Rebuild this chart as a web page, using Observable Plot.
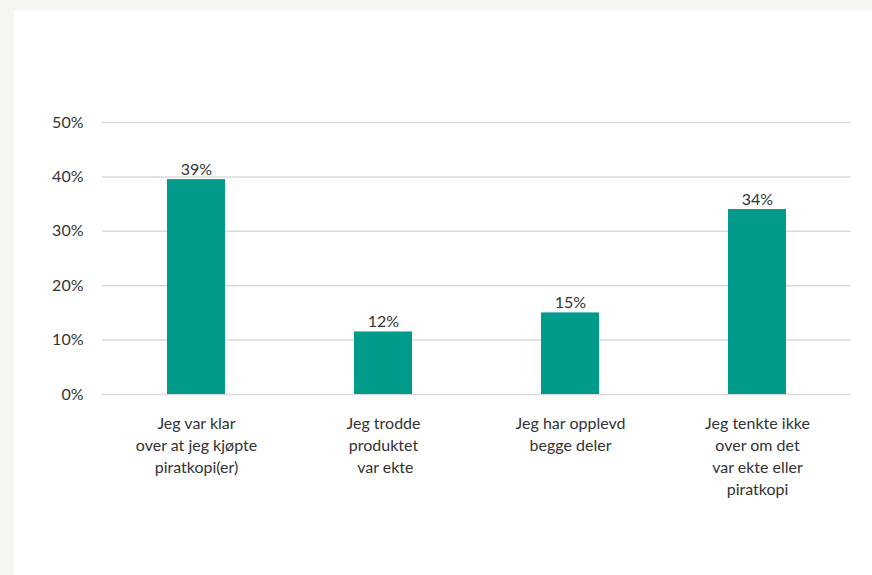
<!DOCTYPE html>
<html>
<head>
<meta charset="utf-8">
<script src="https://cdn.jsdelivr.net/npm/d3@7"></script>
<script src="https://cdn.jsdelivr.net/npm/@observablehq/plot@0.6"></script>
<style>
  html, body { margin: 0; padding: 0; }
  body { background: #f6f5ef; width: 872px; height: 575px; position: relative; overflow: hidden; font-family: Lato, sans-serif; }
  #panel { position: absolute; left: 14px; top: 10px; right: 0; bottom: 0; background: #ffffff; }
  #chart { position: absolute; left: 0; top: 0; }
  #chart svg { background: transparent; }
</style>
</head>
<body>
<div id="panel"></div>
<div id="chart"></div>
<script>
const categories = [
  "Jeg var klar\nover at jeg kjøpte\npiratkopi(er)",
  "Jeg trodde\nproduktet\n var ekte",
  "Jeg har opplevd\nbegge deler",
  "Jeg tenkte ikke\nover om det\nvar ekte eller\npiratkopi"
];
const values = [39.5, 11.5, 15.0, 34.0];
const valueLabels = ["39%", "12%", "15%", "34%"];
const yTicks = [0, 10, 20, 30, 40, 50];

const data = categories.map((c, i) => ({category: c, value: values[i], label: valueLabels[i]}));

const chart = Plot.plot({
  width: 872,
  height: 575,
  marginLeft: 102,
  marginRight: 21,
  marginTop: 122,
  marginBottom: 181,
  style: {fontFamily: "Lato, sans-serif", fontSize: "16px", color: "#333333", background: "transparent"},
  x: {domain: categories, paddingInner: 0.69, paddingOuter: 0.345, label: null},
  y: {domain: [0, 50], label: null},
  marks: [
    Plot.ruleY(yTicks, {stroke: "#dadada", strokeWidth: 1.5}),
    Plot.barY(data, {x: "category", y: "value", fill: "#009b8a"}),
    Plot.text(data, {x: "category", y: "value", text: "label", lineAnchor: "bottom", dy: -5, fill: "#333333", fontSize: 16}),
    Plot.axisY(yTicks, {tickSize: 0, tickPadding: 19, tickFormat: d => d + "%", fontSize: 16, fill: "#333333"}),
    Plot.axisX({tickSize: 0, tickPadding: 19, lineHeight: 1.37, fontSize: 16, fill: "#333333"})
  ]
});
document.getElementById("chart").appendChild(chart);
</script>
</body>
</html>
